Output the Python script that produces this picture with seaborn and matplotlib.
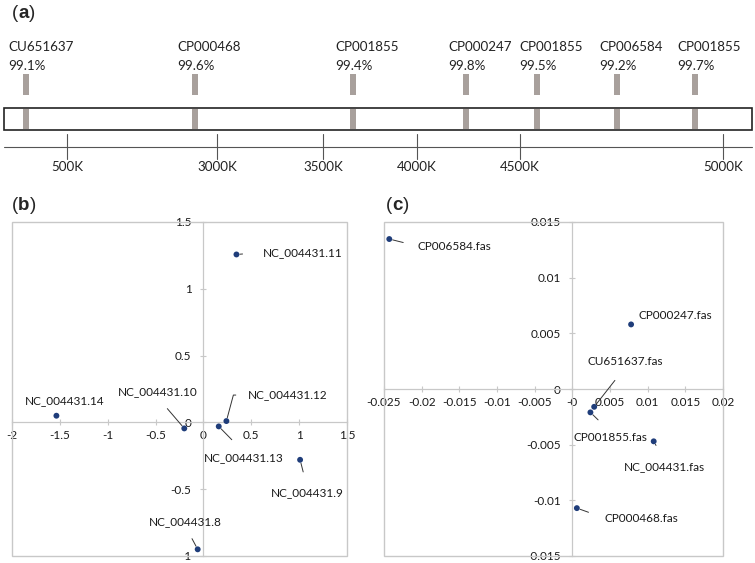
import numpy as np
import pandas as pd
import matplotlib
matplotlib.use("Agg")
import matplotlib.pyplot as plt
import matplotlib.ticker as mticker
from matplotlib.patches import Rectangle
import seaborn as sns

sns.set_style("white")
plt.rcParams["font.family"] = ["Lato", "DejaVu Sans"]
plt.rcParams["axes.unicode_minus"] = False

# ---- data ----
# (a) genome track: hits (track position, accession, identity)
hit_pos = [26, 195, 353, 466, 537, 617, 695]
hit_acc = ["CU651637", "CP000468", "CP001855", "CP000247", "CP001855", "CP006584", "CP001855"]
hit_ident = ["99.1%", "99.6%", "99.4%", "99.8%", "99.5%", "99.2%", "99.7%"]
scale_pos = [67, 217, 323, 417, 520, 723]
scale_lab = ["500K", "3000K", "3500K", "4000K", "4500K", "5000K"]

# (b) MDS of NC_004431 segments
b_names = ["NC_004431.11", "NC_004431.14", "NC_004431.10", "NC_004431.12",
           "NC_004431.13", "NC_004431.9", "NC_004431.8"]
b_x = [0.345, -1.536, -0.20, 0.24, 0.16, 1.01, -0.06]
b_y = [1.257, 0.05, -0.045, 0.01, -0.03, -0.28, -0.95]

# (c) MDS of genomes
c_names = ["CP006584.fas", "CP000247.fas", "CU651637.fas", "CP001855.fas",
           "NC_004431.fas", "CP000468.fas"]
c_x = [-0.0243, 0.0078, 0.0029, 0.0024, 0.0108, 0.0006]
c_y = [0.01347, 0.0058, -0.0016, -0.0021, -0.0047, -0.0107]

df_b = pd.DataFrame({"x": b_x, "y": b_y, "name": b_names})
df_c = pd.DataFrame({"x": c_x, "y": c_y, "name": c_names})

# label placement: offset in pixels, ha, va, leader (relpos or None), shrinkA, connection
b_lab = {
    "NC_004431.11": ((26, 2), "left", "center", (0, 0.5), 12, "arc3"),
    "NC_004431.14": ((8, 15), "center", "center", None, 0, "arc3"),
    "NC_004431.10": ((-27, 37), "center", "center", (0.5, 0), 8, "arc3"),
    "NC_004431.12": ((21, 26), "left", "center", (0, 0.5), 6, "angle,angleA=0,angleB=75,rad=0"),
    "NC_004431.13": ((25, -31), "center", "center", (0.5, 1), 9, "arc3"),
    "NC_004431.9": ((7, -33), "center", "center", (0.5, 1), 9, "arc3"),
    "NC_004431.8": ((-12, 28), "center", "center", (0.5, 0), 7, "arc3"),
}
c_lab = {
    "CP006584.fas": ((28, -7), "left", "center", (0, 0.5), 8, "arc3"),
    "CP000247.fas": ((7, 9), "left", "center", None, 0, "arc3"),
    "CU651637.fas": ((31, 45), "center", "center", (0.5, 0), 9, "arc3"),
    "CP001855.fas": ((20, -25), "center", "center", (0.5, 1), 9, "arc3"),
    "NC_004431.fas": ((11, -25), "center", "center", (0.5, 1), 10, "arc3"),
    "CP000468.fas": ((28, -10), "left", "center", (0, 0.5), 10, "arc3"),
}

W, H = 755, 563
fig = plt.figure(figsize=(W / 100, H / 100), dpi=100)

dot_color = "#1f3d7a"
frame_gray = "#c8c8c8"
stripe_color = "#a8a09c"


def panel_letter(x, y, letter):
    t1 = fig.text(x / W, 1 - y / H, "(", fontsize=13.5, family="Liberation Sans",
                  va="center", ha="left")
    a = fig.add_artist(plt.Annotation(letter, xy=(1, 0), xycoords=t1, va="bottom", ha="left",
                                      fontsize=13.5, family="Liberation Sans", fontweight="bold"))
    fig.add_artist(plt.Annotation(")", xy=(1, 0), xycoords=a, va="bottom", ha="left",
                                  fontsize=13.5, family="Liberation Sans"))


# ---- panel (a) ----
axA = fig.add_axes([0, 1 - 185 / H, 1, 185 / H])
axA.set_xlim(0, W)
axA.set_ylim(185, 0)
axA.axis("off")
axA.add_patch(Rectangle((4, 108), 748, 22, facecolor="white", edgecolor="#222222", lw=1.2, zorder=2))
for p, acc, ident in zip(hit_pos, hit_acc, hit_ident):
    axA.add_patch(Rectangle((p - 3, 108.6), 6, 20.8, facecolor=stripe_color, edgecolor="none", zorder=3))
    axA.add_patch(Rectangle((p - 3, 74), 6, 21, facecolor=stripe_color, edgecolor="none", zorder=3))
    axA.text(p - 18, 47, acc, fontsize=9.6, ha="left", va="center", color="#222222")
    axA.text(p - 18, 66, ident, fontsize=9.6, ha="left", va="center", color="#222222")
axA.plot([4, 752], [147, 147], color="#555555", lw=0.8)
for p, lab in zip(scale_pos, scale_lab):
    axA.plot([p, p], [134, 159], color="#555555", lw=0.8)
    axA.text(p, 167, lab, fontsize=9.6, ha="center", va="center", color="#222222")

panel_letter(12, 14, "a")
panel_letter(12, 206, "b")
panel_letter(386, 206, "c")


def scatter_panel(ax, df, labels, xlim, ylim, step):
    sns.scatterplot(data=df, x="x", y="y", ax=ax, color=dot_color, s=18,
                    edgecolor="none", zorder=4, legend=False)
    ax.set_xlim(*xlim)
    ax.set_ylim(*ylim)
    ax.set_xlabel("")
    ax.set_ylabel("")
    for sp in ["top", "right"]:
        ax.spines[sp].set_visible(False)
    ax.spines["left"].set_position("zero")
    ax.spines["bottom"].set_position("zero")
    for sp in ["left", "bottom"]:
        ax.spines[sp].set_color(frame_gray)
        ax.spines[sp].set_linewidth(0.9)
    ax.add_patch(Rectangle((0, 0), 1, 1, transform=ax.transAxes, fill=False,
                           edgecolor=frame_gray, lw=1.0, clip_on=False, zorder=1))
    ax.xaxis.set_major_locator(mticker.MultipleLocator(step[0]))
    ax.yaxis.set_major_locator(mticker.MultipleLocator(step[1]))
    fmt = mticker.FuncFormatter(lambda v, pos: f"{round(v, 6):g}")
    ax.xaxis.set_major_formatter(fmt)
    ax.yaxis.set_major_formatter(fmt)
    ax.tick_params(axis="x", direction="inout", length=5, width=0.8, color=frame_gray,
                   labelsize=8.5, labelcolor="#1a1a1a", pad=3, bottom=True)
    ax.tick_params(axis="y", direction="inout", length=5, width=0.8, color=frame_gray,
                   labelsize=8.5, labelcolor="#1a1a1a", pad=6, left=True)
    for lab in ax.get_xticklabels() + ax.get_yticklabels():
        lab.set_clip_on(False)
    for _, r in df.iterrows():
        off, ha, va, rel, shr, conn = labels[r["name"]]
        props = None
        if rel is not None:
            props = dict(arrowstyle="-", color="#333333", lw=0.7, relpos=rel,
                         shrinkA=shr, shrinkB=2.5, connectionstyle=conn)
        ax.annotate(r["name"], xy=(r["x"], r["y"]), xytext=off, textcoords="offset pixels",
                    ha=ha, va=va, fontsize=8.5, color="#1a1a1a", arrowprops=props,
                    annotation_clip=False)


axB = fig.add_axes([12 / W, 7 / H, 335 / W, 334 / H])
scatter_panel(axB, df_b, b_lab, (-2, 1.5), (-1, 1.5), (0.5, 0.5))

axC = fig.add_axes([384 / W, 7 / H, 339 / W, 334 / H])
scatter_panel(axC, df_c, c_lab, (-0.025, 0.02), (-0.015, 0.015), (0.005, 0.005))

fig.savefig("out.png", dpi=100)
